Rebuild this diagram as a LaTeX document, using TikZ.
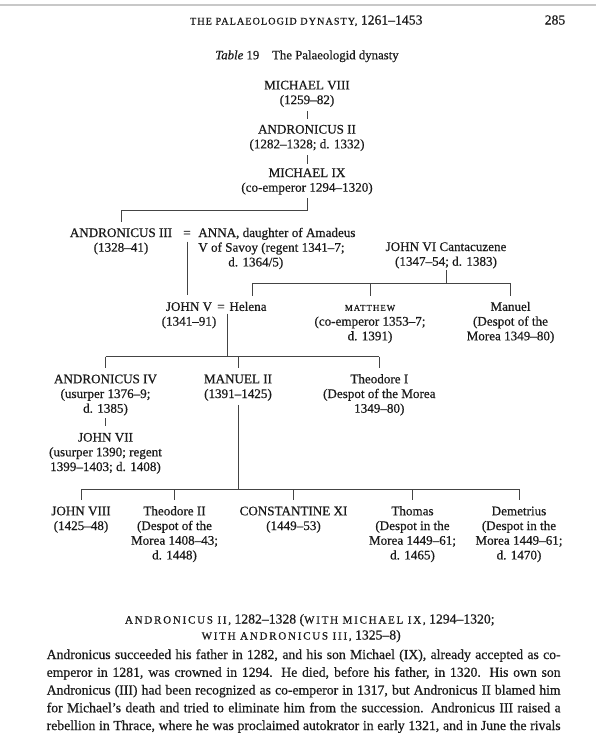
\documentclass[tikz,border=0pt]{standalone}
\usepackage{fontspec}
\setmainfont{Liberation Serif}[FakeBold=0.5]
\newfontfamily\scfont{Liberation Serif}[LetterSpace=10,FakeBold=0.6]
\newfontfamily\schead{Liberation Serif}[LetterSpace=16,FakeBold=0.6]
\usetikzlibrary{calc}
\definecolor{ink}{HTML}{1A1A1A}
\definecolor{rulec}{HTML}{444444}
\definecolor{edge}{HTML}{C8C8C8}
\newcommand\tstrut{\rule{0pt}{10pt}}
\newcommand\fsc[2][10.2]{{\fontsize{#1}{12}\scfont #2}}
\newcommand\hsc[1]{{\fontsize{11}{12}\schead #1}}
\tikzset{
  person/.style={align=center, inner sep=0pt, outer sep=0pt, anchor=north, text=ink,
                 font=\fontsize{13.1}{14.7}\selectfont},
  pagetext/.style={inner sep=0pt, outer sep=0pt, text=ink, anchor=base},
  link/.style={draw=rulec, line width=0.7pt},
  tick/.style={link, shorten >=5pt}
}
\begin{document}
\begin{tikzpicture}[x=1pt,y=-1pt]
\useasboundingbox (0,0) rectangle (596,750);
\fill[white] (0,0) rectangle (596,750);
\draw[edge, line width=1.2pt] (0,5) -- (596,5);

% page header and caption
\node[pagetext] (hdr) at (306.3,24.5) {\fontsize{13.7}{16}\selectfont\fsc{THE PALAEOLOGID DYNASTY,} 1261–1453};
\node[pagetext] (pg) at (555,24.5) {\fontsize{13.7}{16}\selectfont 285};
\node[pagetext] (cap) at (307,59.3) {\fontsize{12.8}{15}\selectfont\textit{Table} 19\quad The Palaeologid dynasty};

% persons
\node[person] (m8) at (307,79.4) {\tstrut MICHAEL VIII\\(1259–82)};
\node[person] (a2) at (307,123.6) {\tstrut ANDRONICUS II\\(1282–1328; d. 1332)};
\node[person] (m9) at (307,167) {\tstrut MICHAEL IX\\(co-emperor 1294–1320)};
\node[person] (a3) at (121,227) {\tstrut ANDRONICUS III\\(1328–41)};
\node[person] (eq1) at (187,227) {\tstrut=};
\node[person, anchor=north west, align=left] (anna) at (198.3,227) {\tstrut ANNA, daughter of Amadeus\\V of Savoy (regent 1341–7;\\\hspace*{30pt}d. 1364/5)};
\node[person] (j6) at (446,241) {\tstrut JOHN VI Cantacuzene\\(1347–54; d. 1383)};
\node[person] (j5) at (189,300.9) {\tstrut JOHN V\\(1341–91)};
\node[person] (eq2) at (221,300.9) {\tstrut=};
\node[person] (hel) at (248,300.9) {\tstrut Helena};
\node[person] (mat) at (370,300.9) {\tstrut\fsc[9]{MATTHEW}\\(co-emperor 1353–7;\\d. 1391)};
\node[person] (man) at (510.5,300.9) {\tstrut Manuel\\(Despot of the\\Morea 1349–80)};
\node[person] (a4) at (105.5,373.3) {\tstrut ANDRONICUS IV\\(usurper 1376–9;\\d. 1385)};
\node[person] (m2) at (238,373.3) {\tstrut MANUEL II\\(1391–1425)};
\node[person] (t1) at (379.3,373.3) {\tstrut Theodore I\\(Despot of the Morea\\1349–80)};
\node[person] (j7) at (105.5,431.6) {\tstrut JOHN VII\\(usurper 1390; regent\\1399–1403; d. 1408)};
\node[person] (j8) at (81,505.3) {\tstrut JOHN VIII\\(1425–48)};
\node[person] (t2) at (174.5,505.3) {\tstrut Theodore II\\(Despot of the\\Morea 1408–43;\\d. 1448)};
\node[person] (c11) at (293.5,505.3) {\tstrut CONSTANTINE XI\\(1449–53)};
\node[person] (tho) at (412.5,505.3) {\tstrut Thomas\\(Despot in the\\Morea 1449–61;\\d. 1465)};
\node[person] (dem) at (519,505.3) {\tstrut Demetrius\\(Despot in the\\Morea 1449–61;\\d. 1470)};

% connectors
\draw[link, shorten <=4.5pt, shorten >=5pt] (m8.south) -- (a2.north);
\draw[link, shorten <=4pt, shorten >=3pt] (a2.south) -- (m9.north);
\coordinate (b1) at (0,210);
\draw[link, shorten <=3.8pt, shorten >=5pt] (m9.south) -- (m9.south |- b1) -| (a3.north);
\draw[link, shorten <=4.5pt, shorten >=5.5pt] (eq1.south) -- (eq1.south |- j5.north);

\coordinate (b2) at (0,283.3);
\coordinate (helt) at ([xshift=4pt]hel.north);
\draw[link, shorten <=1.5pt] (j6.south) -- (j6.south |- b2);
\draw[link] (helt |- b2) -- (man.north |- b2);
\draw[tick] (helt |- b2) -- (helt);
\draw[tick] (mat.north |- b2) -- (mat.north);
\draw[tick] (man.north |- b2) -- (man.north);

\coordinate (jv) at ($(eq2.east)!0.5!(hel.west)$);
\coordinate (b3) at (0,356.7);
\draw[link, shorten <=2.5pt] (jv |- hel.south) -- (jv |- b3);
\draw[link] (a4.north |- b3) -- (t1.north |- b3);
\draw[tick] (a4.north |- b3) -- (a4.north);
\draw[tick] (m2.north |- b3) -- (m2.north);
\draw[tick] (t1.north |- b3) -- (t1.north);

\draw[link, shorten <=3pt, shorten >=5.5pt] (a4.south) -- (j7.north);

\coordinate (b4) at (0,489);
\draw[link, shorten <=4.2pt] (m2.south) -- (m2.south |- b4);
\draw[link] (j8.north |- b4) -- (dem.north |- b4);
\draw[tick] (j8.north |- b4) -- (j8.north);
\draw[tick] (t2.north |- b4) -- (t2.north);
\draw[tick] (c11.north |- b4) -- (c11.north);
\draw[tick] (tho.north |- b4) -- (tho.north);
\draw[tick] (dem.north |- b4) -- (dem.north);

% section heading and body text
\node[pagetext] (hd1) at (309.8,623.5) {\fontsize{13.7}{16}\selectfont\hsc{ANDRONICUS II,} 1282–1328 (\hsc{WITH MICHAEL IX,} 1294–1320;};
\node[pagetext] (hd2) at (301.2,639.5) {\fontsize{13.7}{16}\selectfont\hsc{WITH ANDRONICUS III,} 1325–8)};
\node[pagetext, anchor=base west] (body) at (46.7,659) {\fontsize{13.7}{17.75}\selectfont
\parbox[t]{513.9pt}{\parindent=0pt\parfillskip=0pt\tolerance=10000\hbadness=10000\hyphenpenalty=10000
Andronicus succeeded his father in 1282, and his son Michael (IX), already accepted as co-\linebreak
emperor in 1281, was crowned in 1294. He died, before his father, in 1320. His own son\linebreak
Andronicus (III) had been recognized as co-emperor in 1317, but Andronicus II blamed him\linebreak
for Michael’s death and tried to eliminate him from the succession. Andronicus III raised a\linebreak
rebellion in Thrace, where he was proclaimed autokrator in early 1321, and in June the rivals}};
\end{tikzpicture}
\end{document}
